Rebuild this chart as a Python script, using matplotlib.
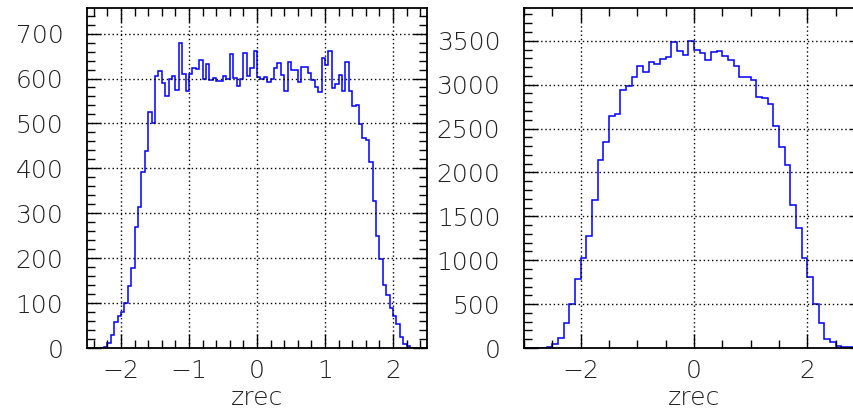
import numpy as np
import matplotlib
matplotlib.use("Agg")
import matplotlib.pyplot as plt
from matplotlib.ticker import MultipleLocator

plt.rcParams['font.family'] = ['DejaVu Sans']
plt.rcParams['font.weight'] = 'light'

# left histogram: 100 bins of 0.05 from -2.5 to 2.5
left_edges = np.linspace(-2.5, 2.5, 101)
left_counts = [
    0, 0, 0, 0, 0,
    3, 12, 30, 58, 72,                      # -2.25 .. -2.05
    81, 100, 139, 178, 269, 313, 392, 438, 525, 501,   # -2.0 .. -1.55
    606, 616, 589, 562, 598, 606, 574, 679, 611, 573,  # -1.5 .. -1.05
    610, 624, 621, 642, 598, 633, 596, 601, 595, 595,  # -1.0 .. -0.55
    606, 598, 654, 602, 583, 598, 656, 606, 624, 661,  # -0.5 .. -0.05
    603, 598, 604, 592, 598, 623, 635, 608, 573, 636,  # 0.0 .. 0.45
    620, 618, 593, 625, 625, 613, 596, 580, 571, 645,  # 0.5 .. 0.95
    630, 662, 579, 587, 608, 573, 636, 573, 539, 542,  # 1.0 .. 1.45
    498, 468, 464, 414, 327, 250, 199, 140, 119, 90,   # 1.5 .. 1.95
    72, 53, 24, 8, 5, 1,                    # 2.0 .. 2.25
    0, 0, 0, 0,
]

# right histogram: 60 bins of 0.1 from -3 to 3
right_edges = np.linspace(-3.0, 3.0, 61)
right_counts = [
    0, 0, 0, 3, 15, 42, 111, 286, 496, 782,            # -3.0 .. -2.1
    1026, 1278, 1686, 2136, 2342, 2643, 2662, 2940, 2990, 3085,  # -2.0 .. -1.1
    3208, 3146, 3257, 3230, 3291, 3314, 3482, 3387, 3337, 3497,  # -1.0 .. -0.1
    3390, 3360, 3280, 3375, 3387, 3330, 3276, 3208, 3082, 3085,  # 0.0 .. 0.9
    3051, 2864, 2849, 2784, 2532, 2288, 2086, 1628, 1369, 1022,  # 1.0 .. 1.9
    805, 503, 290, 99, 69, 27, 15, 6, 2, 0,                      # 2.0 .. 2.9
]

fig = plt.figure(figsize=(8.54, 4.12), dpi=100)
ax1 = fig.add_axes([87/854, 64/412, 340/854, 340/412])
ax2 = fig.add_axes([524/854, 64/412, 340/854, 340/412])

def style(ax, xmaj, xmin, ymaj, ymin):
    ax.xaxis.set_major_locator(MultipleLocator(xmaj))
    ax.xaxis.set_minor_locator(MultipleLocator(xmin))
    ax.yaxis.set_major_locator(MultipleLocator(ymaj))
    ax.yaxis.set_minor_locator(MultipleLocator(ymin))
    ax.tick_params(which='both', direction='in', top=True, right=True,
                   width=1.0, color='black')
    ax.tick_params(which='major', length=10)
    ax.tick_params(which='minor', length=5.5)
    ax.tick_params(axis='y', labelsize=18, pad=17)
    ax.tick_params(axis='x', labelsize=18, pad=8)
    for s in ax.spines.values():
        s.set_linewidth(1.3)
    ax.grid(True, which='major', color='black', linestyle=(0, (1, 2)), linewidth=1.0)
    ax.set_xlabel('zrec', fontsize=18, fontweight='light', color='#222222', labelpad=2)
    for lab in ax.get_xticklabels() + ax.get_yticklabels():
        lab.set_color('#222222')

ax1.stairs(left_counts, left_edges, color='blue', linewidth=1.1)
ax1.set_xlim(-2.5, 2.5)
ax1.set_ylim(0, 757)
style(ax1, 1, 0.2, 100, 20)

ax2.stairs(right_counts, right_edges, color='blue', linewidth=1.1)
ax2.set_xlim(-3.0, 3.0)
ax2.set_ylim(0, 3873)
style(ax2, 2, 0.5, 500, 100)

fig.savefig('out.png', dpi=100)
